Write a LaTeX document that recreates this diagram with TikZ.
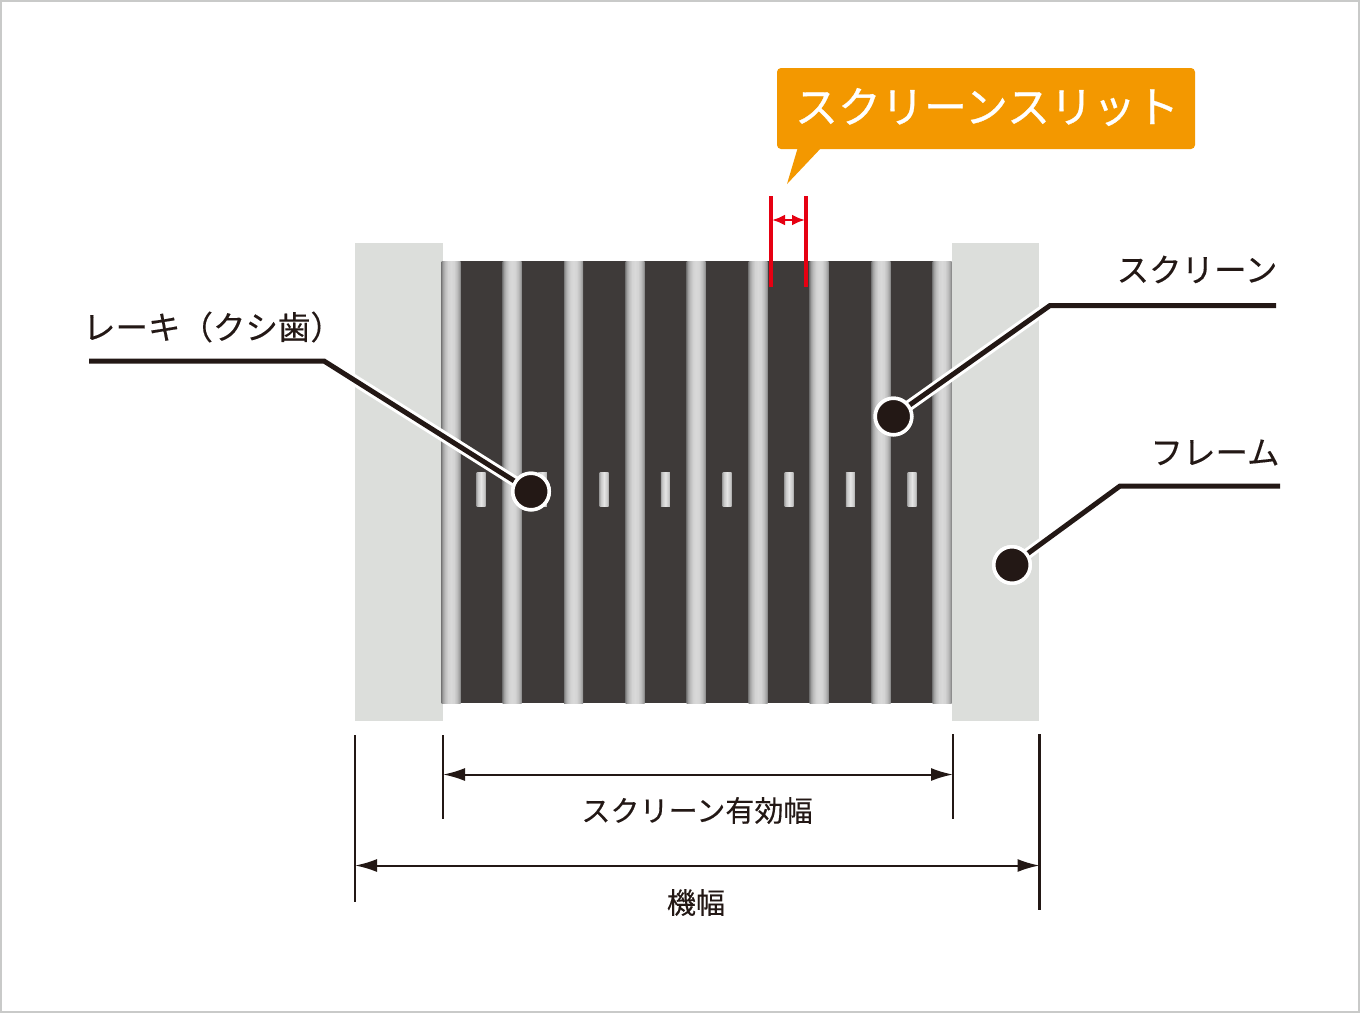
\documentclass[tikz,border=0pt]{standalone}
\usepackage{fontspec}
\setmainfont{Noto Sans CJK JP}[FakeBold=0.25]
\newfontfamily\calloutfont[FakeBold=0.7]{Noto Sans CJK JP}
\usetikzlibrary{arrows.meta}
\definecolor{frameg}{HTML}{DCDEDB}
\definecolor{darkg}{HTML}{3E3A39}
\definecolor{inkb}{HTML}{231815}
\definecolor{orangec}{HTML}{F39800}
\definecolor{redc}{HTML}{E60012}
\definecolor{edgeg}{HTML}{C9CAC9}
\pgfdeclarehorizontalshading{barsh}{100bp}{
 color(0bp)=(black!50);color(25bp)=(black!50);color(28bp)=(black!38);color(34bp)=(black!26);color(42bp)=(black!17);color(50bp)=(black!15);
 color(58bp)=(black!17);color(66bp)=(black!26);color(72bp)=(black!38);color(75bp)=(black!50);color(100bp)=(black!50)}
\pgfdeclarehorizontalshading{slotsh}{100bp}{
 color(0bp)=(black!35);color(25bp)=(black!35);color(32bp)=(black!22);color(50bp)=(black!10);
 color(68bp)=(black!22);color(75bp)=(black!35);color(100bp)=(black!35)}
\tikzset{
 x=1pt,y=-1pt,
 framerect/.style={fill=frameg,draw=none},
 lead/.style={draw=inkb,line width=5pt,line join=miter},
 halo/.style={draw=white,line width=11pt},
 dot/.style={circle,fill=inkb,draw=white,line width=3.5pt,minimum size=36.5pt,inner sep=0pt},
 tick/.style={draw=inkb,line width=2.8pt},
 dim/.style={draw=inkb,line width=2pt,{Latex[length=22pt,width=13pt]}-{Latex[length=22pt,width=13pt]}},
 redline/.style={draw=redc,line width=3.4pt},
 reddim/.style={draw=redc,line width=2.6pt,{Latex[length=13pt,width=11pt]}-{Latex[length=13pt,width=11pt]}},
 lab/.style={text=inkb,inner sep=0pt,font=\fontsize{32.5}{32.5}\selectfont},
 sublab/.style={text=inkb,inner sep=0pt,font=\fontsize{29.1}{29.1}\selectfont},
}
\begin{document}
\begin{tikzpicture}
\useasboundingbox (0,0) rectangle (1360,1013);
\fill[white] (0,0) rectangle (1360,1013);
\draw[edgeg,line width=2pt] (1,1) rectangle (1359,1012);
% screen
\fill[framerect] (355,243) rectangle (443,721);
\fill[framerect] (952,243) rectangle (1039,721);
\fill[darkg] (442,261) rectangle (951,703);
\foreach \cx in {451,512.2,573.6,635,696.2,758,819.2,881,942}{
  \shade[shading=barsh] (\cx-9.5,261) rectangle (\cx+9.5,703);
}
\foreach \cx in {481,542.3,604,665.4,727,789,850.3,912}{
  \shade[shading=slotsh] (\cx-4.5,472) rectangle (\cx+4.5,506);
}
% leaders
\node[dot] (dotrake) at (531,491.5) {};
\node[dot] (dotscreen) at (893.5,416.5) {};
\node[dot] (dotframe) at (1012,565) {};
\coordinate (rakeend) at (89,361);
\coordinate (rakeelbow) at (324,361);
\coordinate (screenend) at (1276,305.5);
\coordinate (screenelbow) at (1050,305.5);
\coordinate (frameend) at (1280,486);
\coordinate (frameelbow) at (1120,486);
\draw[halo] (rakeelbow) -- (dotrake.center);
\draw[halo] (screenelbow) -- (dotscreen.center);
\draw[halo] (frameelbow) -- (dotframe.center);
\draw[lead] (rakeend) -- (rakeelbow) -- (dotrake.center);
\draw[lead] (screenend) -- (screenelbow) -- (dotscreen.center);
\draw[lead] (frameend) -- (frameelbow) -- (dotframe.center);
\node[dot] at (dotrake) {};
\node[dot] at (dotscreen) {};
\node[dot] at (dotframe) {};
\node[lab] (lrake) at (213,327) {レーキ（クシ歯）};
\node[lab] (lscreen) at (1197,269.5) {スクリーン};
\node[lab] (lframe) at (1215,452.5) {フレーム};
% callout
\fill[orangec,rounded corners=4pt] (777,68) rectangle (1195,149);
\fill[orangec] (798,147) -- (787,184) -- (822,147) -- cycle;
\node[text=white,inner sep=0pt,font=\calloutfont\fontsize{43}{43}\selectfont] (callout) at (987,107) {スクリーンスリット};
% slit measure
\coordinate (sla) at (771,196);
\coordinate (slb) at (771,287);
\coordinate (sra) at (806,196);
\coordinate (srb) at (806,287);
\coordinate (sma) at (772,220);
\coordinate (smb) at (805,220);
\draw[redline] (sla) -- (slb);
\draw[redline] (sra) -- (srb);
\draw[reddim] (sma) -- (smb);
% dimensions
\coordinate (t1a) at (443,735); \coordinate (t1b) at (443,819);
\coordinate (t2a) at (953,734); \coordinate (t2b) at (953,819);
\coordinate (t3a) at (355,735); \coordinate (t3b) at (355,902);
\coordinate (t4a) at (1039.5,734); \coordinate (t4b) at (1039.5,910);
\coordinate (d1a) at (443,774.5); \coordinate (d1b) at (953,774.5);
\coordinate (d2a) at (355,865.5); \coordinate (d2b) at (1039.5,865.5);
\draw[tick] (t1a) -- (t1b);
\draw[tick] (t2a) -- (t2b);
\draw[tick] (t3a) -- (t3b);
\draw[tick] (t4a) -- (t4b);
\draw[dim] (d1a) -- (d1b);
\draw[dim] (d2a) -- (d2b);
\node[sublab] (ldim1) at (697,810.5) {スクリーン有効幅};
\node[sublab] (ldim2) at (696,902.5) {機幅};
\end{tikzpicture}
\end{document}
